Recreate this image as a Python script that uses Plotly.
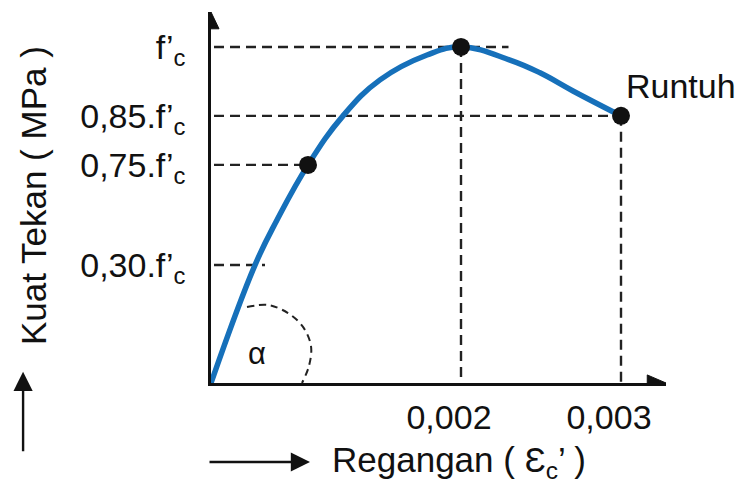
import plotly.graph_objects as go

# Schematic stress-strain curve of concrete (normalised axes:
# strain 0,002 -> 1.0, stress f'c -> 1.0)
curve_x = [0.0, 0.176, 0.264, 0.388, 0.528, 0.676, 0.864,
           1.0, 1.196, 1.316, 1.448, 1.64]
curve_y = [0.0, 0.351, 0.485, 0.649, 0.795, 0.902, 0.976,
           1.0, 0.961, 0.923, 0.869, 0.795]

# Marked points: 0,75 f'c, peak f'c, failure (Runtuh)
point_x = [0.388, 1.0, 1.64]
point_y = [0.649, 1.0, 0.795]

# Stress levels (y ticks) and strain marks (x ticks)
stress_levels = [0.351, 0.649, 0.795, 1.0]
stress_labels = ["0,30.f’<sub>c</sub>", "0,75.f’<sub>c</sub>",
                 "0,85.f’<sub>c</sub>", "f’<sub>c</sub>"]
stress_line_end = [0.216, 0.388, 1.64, 1.19]
strain_marks = [1.0, 1.64]
strain_labels = ["0,002", "0,003"]
strain_mark_top = [1.0, 0.795]

# Dashed arc marking the initial slope angle alpha
arc_x = [0.144, 0.228, 0.308, 0.368, 0.400, 0.392, 0.364]
arc_y = [0.226, 0.232, 0.208, 0.167, 0.110, 0.051, 0.0]

X_MAX, Y_MAX = 1.82, 1.104
FONT = "Liberation Sans, Arial, sans-serif"
BLUE = "rgb(22,112,186)"
INK = "#111"

fig = go.Figure()

# Guide lines (dashed)
for lvl, xend in zip(stress_levels, stress_line_end):
    fig.add_trace(go.Scatter(x=[-0.052, xend], y=[lvl, lvl], mode="lines",
                             line=dict(color="#222", width=2.4, dash="10px,6px"),
                             hoverinfo="skip", showlegend=False, cliponaxis=False))
for xm, ytop in zip(strain_marks, strain_mark_top):
    fig.add_trace(go.Scatter(x=[xm, xm], y=[ytop, -0.035], mode="lines",
                             line=dict(color="#222", width=2.4, dash="10px,6px"),
                             hoverinfo="skip", showlegend=False, cliponaxis=False))

# Alpha arc
fig.add_trace(go.Scatter(x=arc_x, y=arc_y, mode="lines",
                         line=dict(color="#222", width=2, dash="7px,5px", shape="spline"),
                         hoverinfo="skip", showlegend=False, cliponaxis=False))

# Stress-strain curve
fig.add_trace(go.Scatter(x=curve_x, y=curve_y, mode="lines",
                         line=dict(color=BLUE, width=5.5, shape="spline", smoothing=1.2),
                         showlegend=False, cliponaxis=False))

# Marked points
fig.add_trace(go.Scatter(x=point_x, y=point_y, mode="markers",
                         marker=dict(color=INK, size=18),
                         showlegend=False, cliponaxis=False))

# Arrow heads on the axes
fig.add_shape(type="path", xref="x", yref="y",
              path=f"M 0 {Y_MAX} L -0.032 {Y_MAX - 0.05} L 0.032 {Y_MAX - 0.05} Z",
              fillcolor=INK, line=dict(color=INK, width=1))
fig.add_shape(type="path", xref="x", yref="y",
              path=f"M {X_MAX} 0 L {X_MAX - 0.075} 0.024 L {X_MAX - 0.075} -0.024 Z",
              fillcolor=INK, line=dict(color=INK, width=1))

annotations = [
    dict(x=1.65, y=0.82, text="Runtuh", showarrow=False, xanchor="left",
         yanchor="bottom", font=dict(size=34, color=INK, family=FONT)),
    dict(x=0.185, y=0.088, text="α", showarrow=False,
         font=dict(size=31, color=INK, family=FONT)),
    # axis titles
    dict(x=-0.391, y=0.504, xref="paper", yref="paper",
         xanchor="center", yanchor="middle",
         text="Kuat Tekan ( MPa )", textangle=-90, showarrow=False,
         font=dict(size=35, color=INK, family=FONT)),
    dict(x=0.262, y=-0.213, xref="paper", yref="paper",
         xanchor="left", yanchor="middle",
         text="Regangan ( Ɛ<sub>c</sub>’ )", showarrow=False,
         font=dict(size=35, color=INK, family=FONT)),
    # direction arrows next to the titles
    dict(x=-0.413, y=0.03, xref="paper", yref="paper", ax=0, ay=81,
         text="", showarrow=True, arrowhead=2, arrowsize=1.6,
         arrowwidth=2.4, arrowcolor=INK),
    dict(x=0.2176, y=-0.213, xref="paper", yref="paper", ax=-102, ay=0,
         text="", showarrow=True, arrowhead=2, arrowsize=1.6,
         arrowwidth=2.4, arrowcolor=INK),
]

fig.update_layout(
    width=741, height=485,
    margin=dict(l=211, r=75, t=12, b=102),
    paper_bgcolor="white", plot_bgcolor="white",
    annotations=annotations,
    font=dict(family=FONT, color=INK),
    xaxis=dict(range=[0, X_MAX], showgrid=False, zeroline=False,
               showline=True, linecolor=INK, linewidth=2.6,
               tickvals=strain_marks, ticktext=strain_labels, ticks="",
               ticklabelstandoff=2, ticklabelshift=-12,
               tickfont=dict(size=34, family=FONT, color=INK)),
    yaxis=dict(range=[0, Y_MAX], showgrid=False, zeroline=False,
               showline=True, linecolor=INK, linewidth=2.6,
               tickvals=stress_levels, ticktext=stress_labels, ticks="",
               ticklabelstandoff=16,
               tickfont=dict(size=34, family=FONT, color=INK)),
)

fig.write_html("out.html")
